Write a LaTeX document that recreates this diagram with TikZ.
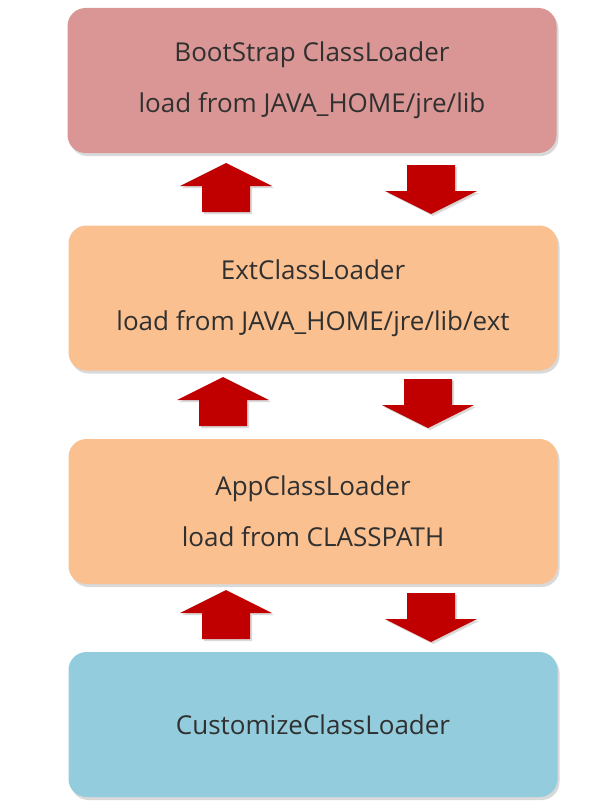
\documentclass[tikz,border=0pt]{standalone}
\usepackage{fontspec}
\setmainfont{Open Sans}
\usetikzlibrary{shadows}
\definecolor{bootred}{HTML}{D99694}
\definecolor{extorange}{HTML}{FAC090}
\definecolor{custblue}{HTML}{93CDDD}
\definecolor{arrowred}{HTML}{C00000}
\definecolor{txt}{HTML}{303030}
\tikzset{
  loader/.style={rectangle,rounded corners=18pt,minimum width=489pt,minimum height=145pt,
    align=center,text=txt,font=\fontsize{26}{32}\selectfont,
    drop shadow={shadow xshift=2pt,shadow yshift=-3pt,opacity=0.3}},
  pics/uparrow/.style={code={
    \fill[arrowred,drop shadow={shadow xshift=2pt,shadow yshift=-2pt,opacity=0.3}]
      (0,0) -- (46,23) -- (24,23) -- (24,49) -- (-24,49) -- (-24,23) -- (-46,23) -- cycle;}},
  pics/downarrow/.style={code={
    \fill[arrowred,drop shadow={shadow xshift=2pt,shadow yshift=-2pt,opacity=0.3}]
      (0,0) -- (46,-23) -- (24,-23) -- (24,-49) -- (-24,-49) -- (-24,-23) -- (-46,-23) -- cycle;}}
}
\begin{document}
\begin{tikzpicture}[x=1pt,y=-1pt]
\useasboundingbox (0,0) rectangle (605,808);
\node[loader,fill=bootred] (boot) at (312,80.5) {BootStrap ClassLoader\\[19pt]load from JAVA\_HOME/jre/lib};
\node[loader,fill=extorange] (ext) at (313,298) {ExtClassLoader\\[19pt]load from JAVA\_HOME/jre/lib/ext};
\node[loader,fill=extorange] (app) at (313,511.5) {AppClassLoader\\[19pt]load from CLASSPATH};
\node[loader,fill=custblue] (cust) at (313,724.5) {CustomizeClassLoader};
% delegation arrows
\pic at (226,163) {uparrow};
\pic at (431,214) {downarrow};
\pic at (223,377) {uparrow};
\pic at (428,428) {downarrow};
\pic at (226,590) {uparrow};
\pic at (431,642) {downarrow};
\end{tikzpicture}
\end{document}
